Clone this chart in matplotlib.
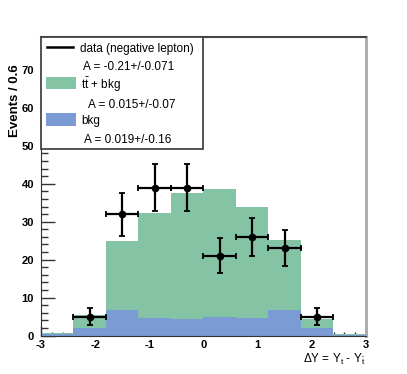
import matplotlib
matplotlib.use("Agg")
import matplotlib.pyplot as plt
import numpy as np
from matplotlib.patches import Rectangle
from matplotlib.lines import Line2D

plt.rcParams['font.family'] = ['Liberation Sans', 'DejaVu Sans']
plt.rcParams['axes.unicode_minus'] = False
plt.rcParams['mathtext.default'] = 'regular'

# ---- data ----
bin_edges = [-3.0, -2.4, -1.8, -1.2, -0.6, 0.0, 0.6, 1.2, 1.8, 2.4, 3.0]
total_mc = [0.7, 5.3, 25.0, 32.4, 37.5, 38.5, 34.0, 25.3, 4.4, 0.4]   # tt + bkg
bkg = [0.3, 1.9, 6.8, 4.5, 4.4, 4.9, 4.7, 6.8, 1.9, 0.15]
data_x = [-2.1, -1.5, -0.9, -0.3, 0.3, 0.9, 1.5, 2.1]
data_y = [5, 32, 39, 39, 21, 26, 23, 5]
data_yerr = [2.2, 5.7, 6.2, 6.2, 4.6, 5.1, 4.8, 2.2]
x_ticks = [-3, -2, -1, 0, 1, 2, 3]
y_ticks = [0, 10, 20, 30, 40, 50, 60, 70]
legend_labels = ["data (negative lepton)", "A = -0.21+/-0.071",
                 r"t$\bar{t}$ + bkg", "A = 0.015+/-0.07",
                 "bkg", "A = 0.019+/-0.16"]

W, H = 407, 374
fig = plt.figure(figsize=(W / 100, H / 100), dpi=100)

def fx(x):
    return x / W

def fy(y):
    return 1 - y / H

ax_l, ax_r, ax_t, ax_b = 41, 366, 37, 335.5
ax = fig.add_axes([fx(ax_l), fy(ax_b), fx(ax_r - ax_l), (ax_b - ax_t) / H])

green = '#84c4a5'
blue = '#7b9bd5'
edges = np.array(bin_edges)
widths = np.diff(edges)
ax.bar(edges[:-1], total_mc, width=widths, align='edge', color=green, linewidth=0, zorder=1)
ax.bar(edges[:-1], bkg, width=widths, align='edge', color=blue, linewidth=0, zorder=1.1)

ax.errorbar(data_x, data_y, xerr=0.3, yerr=data_yerr, fmt='o', color='black',
            markersize=4.5, elinewidth=1.6, capsize=2, capthick=1.3, zorder=3)

ax.set_xlim(-3, 3)
ax.set_ylim(0, 78.7)
ax.set_axisbelow(True)
ax.set_xticks(x_ticks)
ax.set_xticklabels([str(v) for v in x_ticks])
ax.set_yticks(y_ticks)
ax.set_yticklabels([str(v) for v in y_ticks])
ax.set_xticks(np.arange(-3, 3.01, 0.2), minor=True)
ax.set_yticks(np.arange(0, 78, 2), minor=True)
ax.tick_params(axis='y', which='major', direction='in', length=10, width=1, colors='#333333',
               labelcolor='black', labelsize=8, pad=5)
ax.tick_params(axis='y', which='minor', direction='in', length=5, width=1, colors='#333333')
ax.tick_params(axis='x', which='major', direction='in', length=7, width=1, colors='#333333',
               labelcolor='black', labelsize=8, pad=3)
ax.tick_params(axis='x', which='minor', direction='in', length=3, width=1, colors='#333333')
for lab in ax.get_xticklabels() + ax.get_yticklabels():
    lab.set_fontweight('bold')

ax.spines['left'].set_color('#333333')
ax.spines['bottom'].set_color('#333333')
ax.spines['top'].set_color('#444444')
ax.spines['top'].set_linewidth(1.5)
ax.spines['right'].set_color('#aaaaaa')
ax.spines['right'].set_linewidth(2)

# axis titles
fig.text(fx(15), fy(101), "Events / 0.6", rotation=90, ha='center', va='center',
         fontsize=9.5, fontweight='bold')
fig.text(fx(366), fy(359), r"$\Delta$Y = Y$_{t}$ - Y$_{\bar{t}}$", ha='right', va='center',
         fontsize=8.5)

# legend box
fig.patches.append(Rectangle((fx(41), fy(149)), fx(162), (149 - 37) / H,
                             transform=fig.transFigure, facecolor='white',
                             edgecolor='#444444', linewidth=1.3, zorder=5))
fig.lines.append(Line2D([fx(47), fx(73)], [fy(47), fy(47)], transform=fig.transFigure,
                        color='black', linewidth=1.8, zorder=6))
fig.patches.append(Rectangle((fx(46), fy(89)), fx(30), 12 / H, transform=fig.transFigure,
                             facecolor=green, edgecolor='none', zorder=6))
fig.patches.append(Rectangle((fx(46), fy(126)), fx(30), 13 / H, transform=fig.transFigure,
                             facecolor=blue, edgecolor='none', zorder=6))
leg_pos = [(80, 49), (83, 67), (81, 85), (88, 105), (81, 121), (84, 140)]
for (x, y), t in zip(leg_pos, legend_labels):
    fig.text(fx(x), fy(y), t, ha='left', va='center', fontsize=8.5, zorder=7)

fig.savefig('out.png', dpi=100)
